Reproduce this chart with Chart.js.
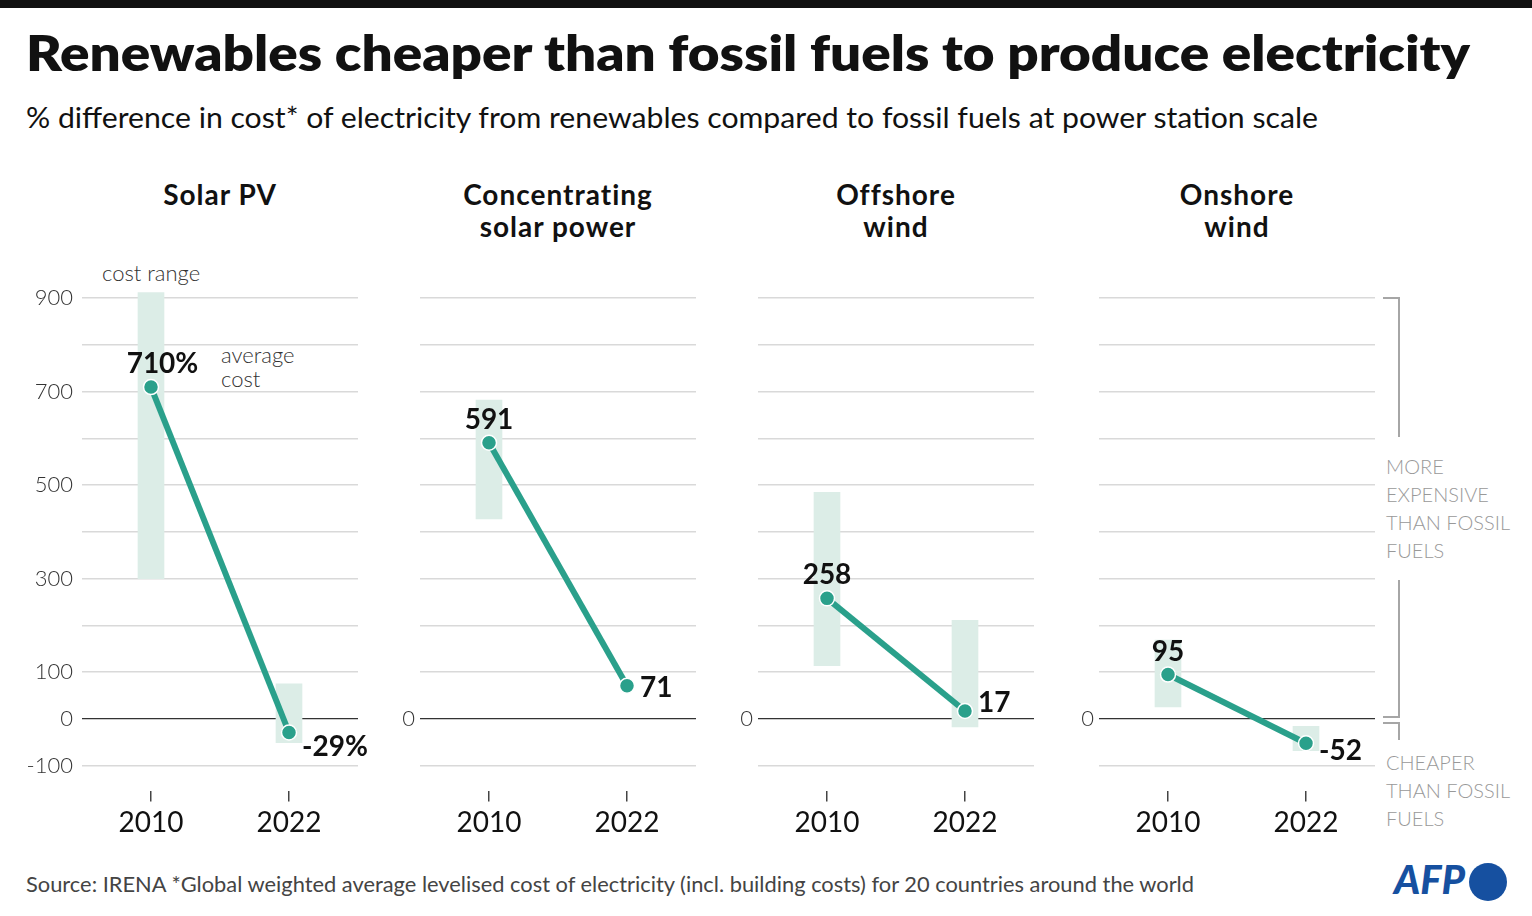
<!DOCTYPE html>
<html>
<head>
<meta charset="utf-8">
<script src="https://cdn.jsdelivr.net/npm/chart.js@4.4.1/dist/chart.umd.min.js"></script>
<style>
  body { margin: 0; background: #fff; font-family: Lato, sans-serif; color: #111; }
  #page { position: relative; width: 1532px; height: 916px; overflow: hidden; }
  .abs { position: absolute; white-space: nowrap; }
  .fit { transform-origin: left top; display: inline-block; }
  canvas { position: absolute; }
  .ptitle { position: absolute; width: 300px; text-align: center; font-weight: 700; font-size: 28px; letter-spacing: 1px; line-height: 32px; color: #111; }
  .note { font-weight: 300; font-size: 22px; color: #333; }
  .side { font-weight: 300; font-size: 20px; line-height: 28px; color: #999; }
  .br { position: absolute; background: #a6a6a6; }
</style>
</head>
<body>
<div id="page">
  <div class="abs" style="left:0;top:0;width:1532px;height:8px;background:#111"></div>
  <div class="abs fit" data-w="1444" style="left:26px;top:22px;font-size:50px;font-weight:800;line-height:60px">Renewables cheaper than fossil fuels to produce electricity</div>
  <div class="abs fit" data-w="1292" style="left:26px;top:100px;font-size:28px;line-height:34px">% difference in cost* of electricity from renewables compared to fossil fuels at power station scale</div>

  <div class="abs note" style="left:102px;top:260px;line-height:26px">cost range</div>
  <div class="abs note" style="left:221px;top:343px;line-height:24px">average<br>cost</div>

  <div class="abs side" style="left:1386px;top:452px">MORE<br>EXPENSIVE<br>THAN FOSSIL<br>FUELS</div>
  <div class="abs side" style="left:1386px;top:748px">CHEAPER<br>THAN FOSSIL<br>FUELS</div>
  <div class="br" style="left:1383px;top:297px;width:17px;height:1.5px"></div>
  <div class="br" style="left:1398px;top:297px;width:1.5px;height:140px"></div>
  <div class="br" style="left:1398px;top:580px;width:1.5px;height:137px"></div>
  <div class="br" style="left:1383px;top:716px;width:17px;height:1.5px"></div>
  <div class="br" style="left:1383px;top:722px;width:17px;height:1.5px"></div>
  <div class="br" style="left:1398px;top:722px;width:1.5px;height:18px"></div>

  <div class="abs fit" data-w="1168" style="left:26px;top:871px;font-size:22px;line-height:26px;color:#444">Source: IRENA *Global weighted average levelised cost of electricity (incl. building costs) for 20 countries around the world</div>
  <div class="abs" style="left:1394px;top:855px;font-size:40px;line-height:48px;font-weight:900;font-style:italic;color:#1650a0">AFP</div>
  <div class="abs" style="left:1469px;top:863px;width:38px;height:38px;border-radius:50%;background:#1650a0"></div>
</div>
<script>
// data
const categories = ['2010', '2022'];
const panelTitles = [['Solar PV'], ['Concentrating', 'solar power'], ['Offshore', 'wind'], ['Onshore', 'wind']];
const solarPvAvg = [710, -29];
const solarPvRange = [[300, 912], [-51, 75]];
const cspAvg = [591, 71];
const cspRange = [[428, 682], null];
const offshoreAvg = [258, 17];
const offshoreRange = [[114, 485], [-17, 211]];
const onshoreAvg = [95, -52];
const onshoreRange = [[26, 169], [-68, -16]];
const yGridValues = [-100, 0, 100, 200, 300, 400, 500, 600, 700, 800, 900];
const yTickLabelsFirst = [900, 700, 500, 300, 100, 0, -100];
const yTickLabelsOther = [0];

const averages = [solarPvAvg, cspAvg, offshoreAvg, onshoreAvg];
const ranges = [solarPvRange, cspRange, offshoreRange, onshoreRange];

// layout
const plotLefts = [82, 420, 758, 1099];
const plotWidth = 276;
const axisWidth = 82;
const labelDy = [13.5, 1, -9, 7];
const teal = '#2aa08b';

Chart.defaults.font.family = 'Lato';

const valueLabels = {
  id: 'valueLabels',
  afterDatasetsDraw(chart, args, opts) {
    const meta = chart.getDatasetMeta(0);
    const ctx = chart.ctx;
    ctx.save();
    ctx.font = 'bold 28px Lato';
    ctx.fillStyle = '#111';
    ctx.textAlign = 'left';
    ctx.textBaseline = 'alphabetic';
    meta.data.forEach((pt, i) => {
      const num = String(chart.data.datasets[0].data[i]);
      if (i === 0) {
        const w = ctx.measureText(num).width;
        ctx.fillText(num + opts.suffix, pt.x - w / 2, pt.y - 14);
      } else {
        ctx.fillText(num + opts.suffix, pt.x + 13, pt.y + opts.dy + 10);
      }
    });
    ctx.restore();
  }
};

const page = document.getElementById('page');

averages.forEach((avg, p) => {
  const left = plotLefts[p] - axisWidth;
  const cv = document.createElement('canvas');
  cv.width = 378; cv.height = 600;
  cv.style.left = left + 'px'; cv.style.top = '260px';
  page.appendChild(cv);

  const t = document.createElement('div');
  t.className = 'ptitle';
  t.style.left = (plotLefts[p] + plotWidth / 2 - 150) + 'px';
  t.style.top = '178px';
  t.innerHTML = panelTitles[p].join('<br>');
  page.appendChild(t);

  const shown = p === 0 ? yTickLabelsFirst : yTickLabelsOther;

  new Chart(cv, {
    type: 'bar',
    data: {
      labels: categories,
      datasets: [
        {
          type: 'line',
          data: avg,
          order: 0,
          borderColor: teal,
          borderWidth: 6,
          pointRadius: 7.5,
          pointBackgroundColor: teal,
          pointBorderColor: '#fff',
          pointBorderWidth: 1.5,
          clip: false
        },
        {
          type: 'bar',
          data: ranges[p],
          order: 1,
          backgroundColor: '#dcede7',
          barThickness: 26
        }
      ]
    },
    options: {
      responsive: false,
      animation: false,
      layout: { padding: { top: 26.6, right: 20, bottom: 0, left: 0 } },
      plugins: {
        legend: { display: false },
        tooltip: { enabled: false },
        valueLabels: { suffix: p === 0 ? '%' : '', dy: labelDy[p] }
      },
      scales: {
        x: {
          offset: true,
          border: { display: false },
          grid: { offset: false, drawOnChartArea: false, drawTicks: true, tickLength: 10, color: '#444', lineWidth: 1.5 },
          ticks: { font: { size: 28 }, color: '#111', padding: 5 },
          afterFit(scale) { scale.height = 68.6; }
        },
        y: {
          min: -155,
          max: 925,
          border: { display: false },
          afterBuildTicks(scale) { scale.ticks = yGridValues.map(v => ({ value: v })); },
          afterFit(scale) { scale.width = axisWidth; },
          grid: {
            drawTicks: false,
            color: c => c.tick && c.tick.value === 0 ? '#333' : '#d9d9d9',
            lineWidth: c => c.tick && c.tick.value === 0 ? 1.3 : 1.6
          },
          ticks: {
            padding: p === 0 ? 9 : 5,
            font: { size: 22, weight: 300 },
            color: '#333',
            callback: v => shown.includes(v) ? String(v) : ''
          }
        }
      }
    },
    plugins: [valueLabels]
  });
});

document.fonts.ready.then(() => {
  document.querySelectorAll('.fit[data-w]').forEach(el => {
    const w = el.getBoundingClientRect().width;
    el.style.transform = 'scaleX(' + (parseFloat(el.dataset.w) / w) + ')';
  });
});
</script>
</body>
</html>
